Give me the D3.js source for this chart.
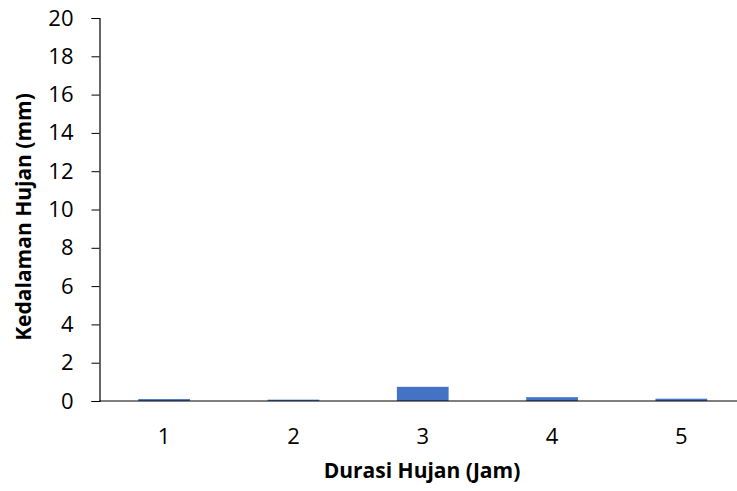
<!DOCTYPE html>
<html>
<head>
<meta charset="utf-8">
<script src="https://cdn.jsdelivr.net/npm/d3@7"></script>
<style>
  body { margin: 0; background: #fff; }
  svg { display: block; font-family: "Open Sans", "Liberation Sans", sans-serif; }
</style>
</head>
<body>
<div id="chart"></div>
<script>
// Rain depth per rainfall duration
const durations = ["1", "2", "3", "4", "5"];
const depths = [0.1, 0.07, 0.74, 0.2, 0.12];
const yTicks = [0, 2, 4, 6, 8, 10, 12, 14, 16, 18, 20];

(function () {
  const W = 737, H = 491;
  const margin = { top: 18, right: -9, bottom: 90, left: 99.5 };

  const svg = d3.select("#chart").append("svg")
    .attr("width", W).attr("height", H);

  const x = d3.scaleBand()
    .domain(durations)
    .range([margin.left, W - margin.right])
    .paddingInner(0.6)
    .paddingOuter(0.3);

  const y = d3.scaleLinear()
    .domain([0, 20])
    .range([H - margin.bottom, margin.top]);

  // bars
  svg.append("g")
    .selectAll("rect")
    .data(durations.map((d, i) => ({ d, v: depths[i] })))
    .join("rect")
    .attr("x", (p) => x(p.d))
    .attr("y", (p) => y(p.v))
    .attr("width", x.bandwidth())
    .attr("height", (p) => y(0) - y(p.v))
    .attr("fill", "#4472C4");

  // y axis
  const yAxis = svg.append("g")
    .attr("transform", `translate(${margin.left},0)`)
    .call(d3.axisLeft(y).tickValues(yTicks).tickSize(8).tickPadding(18));
  yAxis.attr("font-size", null).attr("font-family", null);
  yAxis.select(".domain").attr("stroke", "#000").attr("stroke-width", 1.2);
  yAxis.selectAll(".tick line").attr("stroke", "#000");
  yAxis.selectAll("text").style("font-size", "22px").attr("fill", "#000");

  // x axis
  const xAxis = svg.append("g")
    .attr("transform", `translate(0,${y(0)})`)
    .call(d3.axisBottom(x).tickSize(0).tickPadding(27));
  xAxis.attr("font-size", null).attr("font-family", null);
  xAxis.select(".domain").attr("stroke", "#000").attr("stroke-width", 1.2)
    .attr("d", `M${margin.left},0H${W}`);
  xAxis.selectAll("text").style("font-size", "22px").attr("fill", "#000");

  // axis titles
  svg.append("text")
    .attr("x", 422)
    .attr("y", 478)
    .attr("text-anchor", "middle")
    .style("font-size", "21px")
    .attr("font-weight", "bold")
    .text("Durasi Hujan (Jam)");

  svg.append("text")
    .attr("transform", "translate(31,217) rotate(-90)")
    .attr("text-anchor", "middle")
    .style("font-size", "21px")
    .attr("font-weight", "bold")
    .text("Kedalaman Hujan (mm)");
})();
</script>
</body>
</html>
